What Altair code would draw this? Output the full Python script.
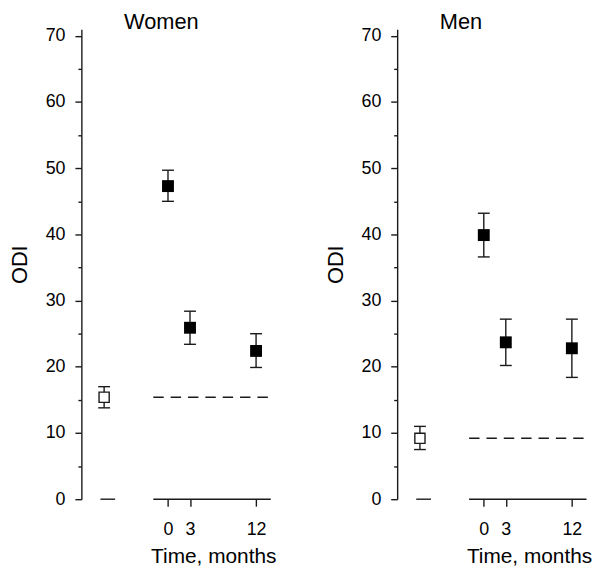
import altair as alt
import pandas as pd

# ---- data ----
panels = ["Women", "Men"]
times = [0, 3, 12]                      # months
women_mean = [47.3, 25.9, 22.4]
women_lo = [45.0, 23.4, 19.9]
women_hi = [49.7, 28.4, 25.0]
men_mean = [39.9, 23.7, 22.8]
men_lo = [36.6, 20.2, 18.4]
men_hi = [43.2, 27.2, 27.2]
ref_mean = [15.4, 9.2]                  # reference (open square), women / men
ref_lo = [13.8, 7.5]
ref_hi = [17.0, 11.0]
y_major = [0, 10, 20, 30, 40, 50, 60, 70]
y_minor = [5, 15, 25, 35, 45, 55, 65]
x_ticks = [0, 3, 12]

REF_X = -8.7
REF_SEG = [-9.2, -7.2]
MAIN_SEG = [-2.0, 14.0]
X_DOMAIN = [-11.8, 14.0]
Y_DOMAIN = [0, 71]
W, H = 191, 474
FONT = "Liberation Sans"
INK = "#1a1a1a"
SW = 1.4


def panel(title, mean, lo, hi, rmean, rlo, rhi):
    pts = pd.DataFrame({"t": times, "m": mean, "lo": lo, "hi": hi})
    ref = pd.DataFrame({"t": [REF_X], "m": [rmean], "lo": [rlo], "hi": [rhi]})
    segs = pd.DataFrame({"x": [REF_SEG[0], MAIN_SEG[0]],
                         "x2": [REF_SEG[1], MAIN_SEG[1]], "y": [0, 0]})
    dash = pd.DataFrame({"x": [MAIN_SEG[0]], "x2": [MAIN_SEG[1]], "y": [rmean]})
    minor = pd.DataFrame({"t": [0] * len(y_minor), "v": y_minor})

    xs = alt.Scale(domain=X_DOMAIN, nice=False, zero=False)
    ys = alt.Scale(domain=Y_DOMAIN, nice=False, zero=False)

    xaxis = alt.Axis(values=x_ticks, title="Time, months", domain=False, grid=False,
                     orient="bottom", tickSize=7, tickWidth=SW, tickColor=INK,
                     labelPadding=15, labelFontSize=18, labelFont=FONT,
                     labelColor="black", titleFontSize=21, titleFont=FONT,
                     titleFontWeight="normal", titleColor="black", titleX=133,
                     titlePadding=7, labelFlush=False, labelOverlap=False)
    yaxis = alt.Axis(values=y_major, title="ODI", grid=False, orient="left",
                     tickSize=6.5, tickWidth=SW, tickColor=INK, domainColor=INK,
                     domainWidth=SW, labelPadding=10, labelFontSize=18, labelFont=FONT,
                     labelColor="black", titleFontSize=22, titleFont=FONT,
                     titleFontWeight="normal", titleColor="black", titlePadding=13.5,
                     labelFlush=False, labelOverlap=False)
    yminor = alt.Axis(values=y_minor, title=None, grid=False, orient="left",
                      labels=False, domain=False, tickSize=3.5, tickWidth=SW,
                      tickColor=INK)

    axis_base = alt.Chart(pts).mark_point(opacity=0).encode(
        x=alt.X("t:Q", scale=xs, axis=xaxis),
        y=alt.Y("m:Q", scale=ys, axis=yaxis),
    )
    minor_layer = alt.Chart(minor).mark_point(opacity=0).encode(
        x=alt.X("t:Q", scale=xs, axis=None),
        y=alt.Y("v:Q", scale=ys, axis=yminor),
    )

    seg_layer = alt.Chart(segs).mark_rule(color=INK, strokeWidth=SW).encode(
        x=alt.X("x:Q", scale=xs, axis=None), x2="x2:Q",
        y=alt.Y("y:Q", scale=ys, axis=None))

    dash_layer = alt.Chart(dash).mark_rule(color=INK, strokeWidth=SW,
                                           strokeDash=[10.5, 7]).encode(
        x=alt.X("x:Q", scale=xs, axis=None), x2="x2:Q",
        y=alt.Y("y:Q", scale=ys, axis=None))

    def bars(df):
        r = alt.Chart(df).mark_rule(color=INK, strokeWidth=SW).encode(
            x=alt.X("t:Q", scale=xs, axis=None),
            y=alt.Y("lo:Q", scale=ys, axis=None), y2="hi:Q")
        c1 = alt.Chart(df).mark_tick(color=INK, orient="horizontal", size=12,
                                     thickness=SW, opacity=1).encode(
            x=alt.X("t:Q", scale=xs, axis=None),
            y=alt.Y("lo:Q", scale=ys, axis=None))
        c2 = alt.Chart(df).mark_tick(color=INK, orient="horizontal", size=12,
                                     thickness=SW, opacity=1).encode(
            x=alt.X("t:Q", scale=xs, axis=None),
            y=alt.Y("hi:Q", scale=ys, axis=None))
        return [r, c1, c2]

    filled = alt.Chart(pts).mark_square(size=144, color="black", filled=True,
                                        opacity=1).encode(
        x=alt.X("t:Q", scale=xs, axis=None),
        y=alt.Y("m:Q", scale=ys, axis=None))
    openq = alt.Chart(ref).mark_square(size=105, fill="white", stroke=INK,
                                       strokeWidth=SW, filled=True, opacity=1).encode(
        x=alt.X("t:Q", scale=xs, axis=None),
        y=alt.Y("m:Q", scale=ys, axis=None))

    layers = [axis_base, minor_layer, seg_layer, dash_layer] + bars(pts) + bars(ref) + [filled, openq]
    return alt.layer(*layers).resolve_axis(x="independent", y="independent").properties(
        width=W, height=H,
        title=alt.TitleParams(text=title, anchor="start", frame="group", dx=43,
                              fontSize=22, font=FONT, fontWeight="normal",
                              color="black", offset=-7),
    )


women = panel(panels[0], women_mean, women_lo, women_hi, ref_mean[0], ref_lo[0], ref_hi[0])
men = panel(panels[1], men_mean, men_lo, men_hi, ref_mean[1], ref_lo[1], ref_hi[1])

chart = alt.hconcat(women, men, spacing=47.5).configure_view(stroke=None).properties(
    padding={"left": 0, "top": 0, "right": 0, "bottom": 0},
    background="white",
)

chart.save("out.html", embed_options={"renderer": "svg", "actions": False})
